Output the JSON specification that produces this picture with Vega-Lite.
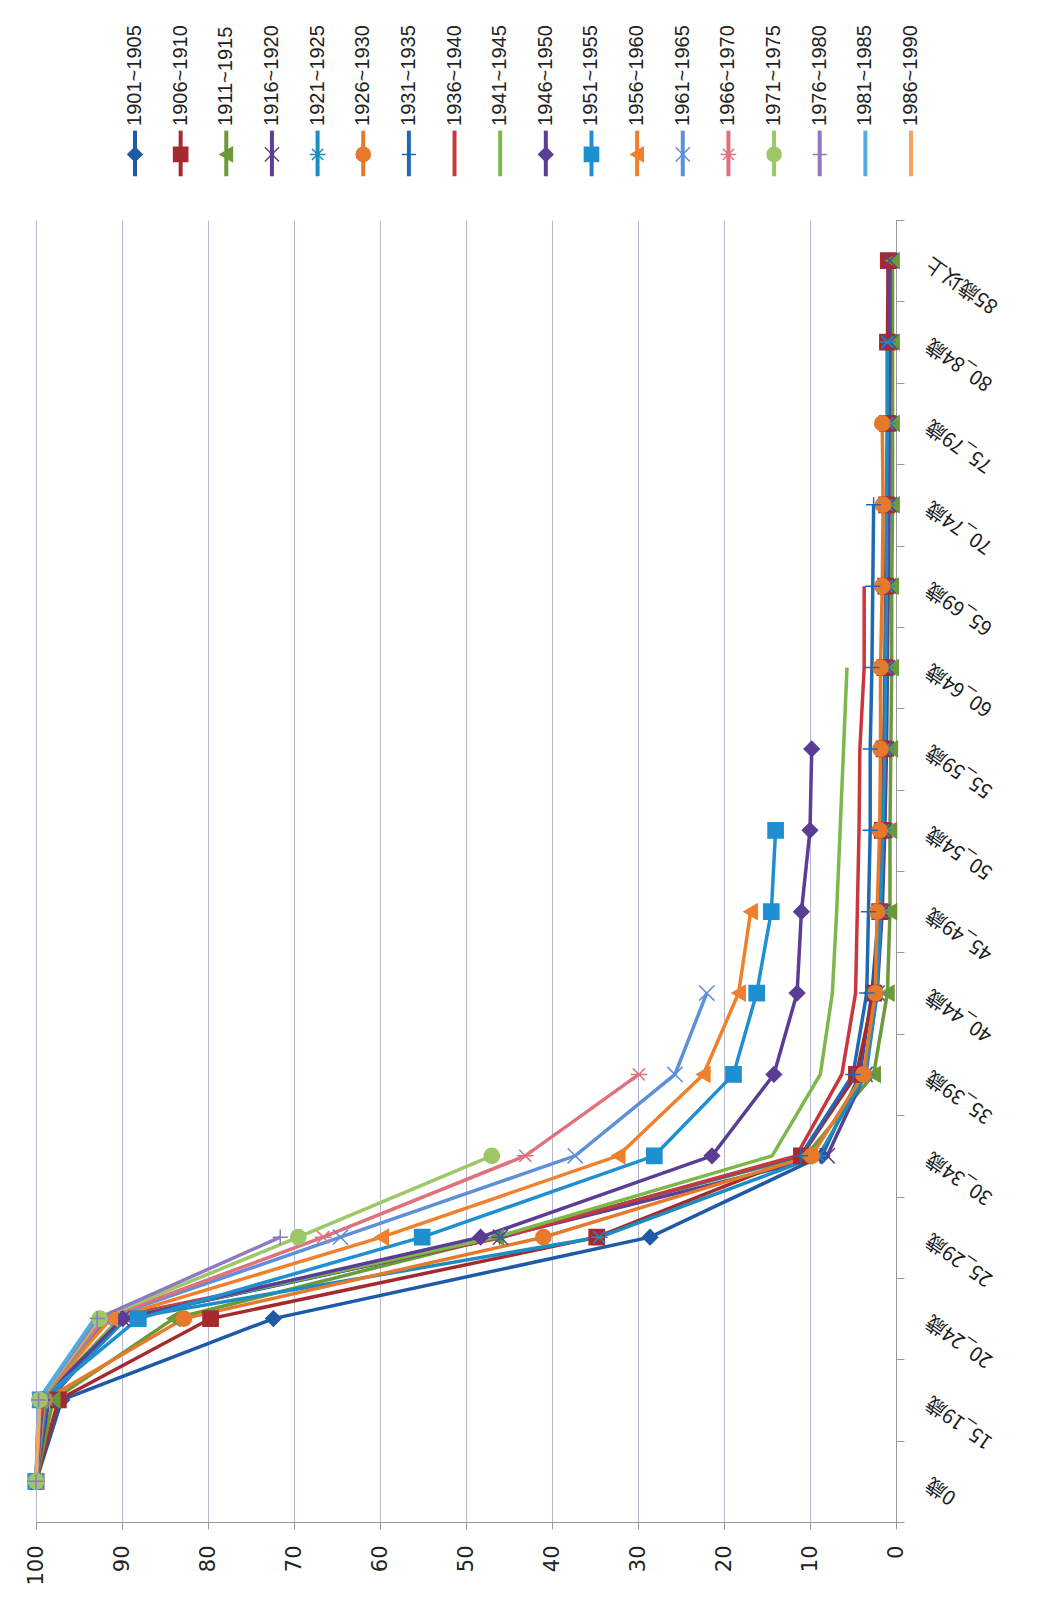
{
  "$schema": "https://vega.github.io/schema/vega-lite/v6.json",
  "padding": {"left": 24, "top": 10, "right": 5, "bottom": 5},
  "background": "white",
  "bounds": "flush",
  "spacing": 20,
  "config": {"view": {"stroke": null}},
  "datasets": {
    "series": [
      {"c": "1901~1905"}, {"c": "1906~1910"}, {"c": "1911~1915"}, {"c": "1916~1920"},
      {"c": "1921~1925"}, {"c": "1926~1930"}, {"c": "1931~1935"}, {"c": "1936~1940"},
      {"c": "1941~1945"}, {"c": "1946~1950"}, {"c": "1951~1955"}, {"c": "1956~1960"},
      {"c": "1961~1965"}, {"c": "1966~1970"}, {"c": "1971~1975"}, {"c": "1976~1980"},
      {"c": "1981~1985"}, {"c": "1986~1990"}
    ],
    "cohort": [
      {"c": "1901~1905", "a": "0歳", "v": 100}, {"c": "1901~1905", "a": "15_19歳", "v": 97.0}, {"c": "1901~1905", "a": "20_24歳", "v": 72.4}, {"c": "1901~1905", "a": "25_29歳", "v": 28.6}, {"c": "1901~1905", "a": "30_34歳", "v": 8.6}, {"c": "1901~1905", "a": "35_39歳", "v": 4.2}, {"c": "1901~1905", "a": "40_44歳", "v": 2.8}, {"c": "1901~1905", "a": "45_49歳", "v": 2.0}, {"c": "1901~1905", "a": "50_54歳", "v": 1.6}, {"c": "1901~1905", "a": "55_59歳", "v": 1.4}, {"c": "1901~1905", "a": "60_64歳", "v": 1.2}, {"c": "1901~1905", "a": "65_69歳", "v": 1.1}, {"c": "1901~1905", "a": "70_74歳", "v": 1.0}, {"c": "1901~1905", "a": "75_79歳", "v": 0.9}, {"c": "1901~1905", "a": "80_84歳", "v": 0.9}, {"c": "1901~1905", "a": "85歳以上", "v": 0.9},
      {"c": "1906~1910", "a": "0歳", "v": 100}, {"c": "1906~1910", "a": "15_19歳", "v": 97.4}, {"c": "1906~1910", "a": "20_24歳", "v": 79.7}, {"c": "1906~1910", "a": "25_29歳", "v": 34.8}, {"c": "1906~1910", "a": "30_34歳", "v": 11.0}, {"c": "1906~1910", "a": "35_39歳", "v": 4.6}, {"c": "1906~1910", "a": "40_44歳", "v": 2.6}, {"c": "1906~1910", "a": "45_49歳", "v": 1.9}, {"c": "1906~1910", "a": "50_54歳", "v": 1.6}, {"c": "1906~1910", "a": "55_59歳", "v": 1.4}, {"c": "1906~1910", "a": "60_64歳", "v": 1.3}, {"c": "1906~1910", "a": "65_69歳", "v": 1.2}, {"c": "1906~1910", "a": "70_74歳", "v": 1.1}, {"c": "1906~1910", "a": "75_79歳", "v": 1.0}, {"c": "1906~1910", "a": "80_84歳", "v": 1.0}, {"c": "1906~1910", "a": "85歳以上", "v": 0.9},
      {"c": "1911~1915", "a": "0歳", "v": 100}, {"c": "1911~1915", "a": "15_19歳", "v": 98.0}, {"c": "1911~1915", "a": "20_24歳", "v": 84.0}, {"c": "1911~1915", "a": "25_29歳", "v": 46.4}, {"c": "1911~1915", "a": "30_34歳", "v": 10.5}, {"c": "1911~1915", "a": "35_39歳", "v": 2.6}, {"c": "1911~1915", "a": "40_44歳", "v": 1.0}, {"c": "1911~1915", "a": "45_49歳", "v": 0.7}, {"c": "1911~1915", "a": "50_54歳", "v": 0.7}, {"c": "1911~1915", "a": "55_59歳", "v": 0.6}, {"c": "1911~1915", "a": "60_64歳", "v": 0.5}, {"c": "1911~1915", "a": "65_69歳", "v": 0.5}, {"c": "1911~1915", "a": "70_74歳", "v": 0.4}, {"c": "1911~1915", "a": "75_79歳", "v": 0.4}, {"c": "1911~1915", "a": "80_84歳", "v": 0.4}, {"c": "1911~1915", "a": "85歳以上", "v": 0.4},
      {"c": "1916~1920", "a": "0歳", "v": 100}, {"c": "1916~1920", "a": "15_19歳", "v": 98.5}, {"c": "1916~1920", "a": "20_24歳", "v": 90.0}, {"c": "1916~1920", "a": "25_29歳", "v": 46.0}, {"c": "1916~1920", "a": "30_34歳", "v": 8.0}, {"c": "1916~1920", "a": "35_39歳", "v": 3.6}, {"c": "1916~1920", "a": "40_44歳", "v": 2.2}, {"c": "1916~1920", "a": "45_49歳", "v": 1.6}, {"c": "1916~1920", "a": "50_54歳", "v": 1.3}, {"c": "1916~1920", "a": "55_59歳", "v": 1.1}, {"c": "1916~1920", "a": "60_64歳", "v": 1.0}, {"c": "1916~1920", "a": "65_69歳", "v": 0.9}, {"c": "1916~1920", "a": "70_74歳", "v": 0.8}, {"c": "1916~1920", "a": "75_79歳", "v": 0.8}, {"c": "1916~1920", "a": "80_84歳", "v": 0.7}, {"c": "1916~1920", "a": "85歳以上", "v": 0.7},
      {"c": "1921~1925", "a": "0歳", "v": 100}, {"c": "1921~1925", "a": "15_19歳", "v": 98.8}, {"c": "1921~1925", "a": "20_24歳", "v": 89.5}, {"c": "1921~1925", "a": "25_29歳", "v": 34.5}, {"c": "1921~1925", "a": "30_34歳", "v": 9.0}, {"c": "1921~1925", "a": "35_39歳", "v": 3.5}, {"c": "1921~1925", "a": "40_44歳", "v": 2.2}, {"c": "1921~1925", "a": "45_49歳", "v": 1.8}, {"c": "1921~1925", "a": "50_54歳", "v": 1.5}, {"c": "1921~1925", "a": "55_59歳", "v": 1.3}, {"c": "1921~1925", "a": "60_64歳", "v": 1.2}, {"c": "1921~1925", "a": "65_69歳", "v": 1.1}, {"c": "1921~1925", "a": "70_74歳", "v": 1.1}, {"c": "1921~1925", "a": "75_79歳", "v": 1.0}, {"c": "1921~1925", "a": "80_84歳", "v": 1.0},
      {"c": "1926~1930", "a": "0歳", "v": 100}, {"c": "1926~1930", "a": "15_19歳", "v": 99.0}, {"c": "1926~1930", "a": "20_24歳", "v": 82.8}, {"c": "1926~1930", "a": "25_29歳", "v": 41.0}, {"c": "1926~1930", "a": "30_34歳", "v": 9.8}, {"c": "1926~1930", "a": "35_39歳", "v": 3.8}, {"c": "1926~1930", "a": "40_44歳", "v": 2.4}, {"c": "1926~1930", "a": "45_49歳", "v": 2.2}, {"c": "1926~1930", "a": "50_54歳", "v": 1.9}, {"c": "1926~1930", "a": "55_59歳", "v": 1.8}, {"c": "1926~1930", "a": "60_64歳", "v": 1.8}, {"c": "1926~1930", "a": "65_69歳", "v": 1.6}, {"c": "1926~1930", "a": "70_74歳", "v": 1.5}, {"c": "1926~1930", "a": "75_79歳", "v": 1.6},
      {"c": "1931~1935", "a": "0歳", "v": 100}, {"c": "1931~1935", "a": "15_19歳", "v": 99.2}, {"c": "1931~1935", "a": "20_24歳", "v": 90.1}, {"c": "1931~1935", "a": "25_29歳", "v": 46.1}, {"c": "1931~1935", "a": "30_34歳", "v": 11.1}, {"c": "1931~1935", "a": "35_39歳", "v": 5.0}, {"c": "1931~1935", "a": "40_44歳", "v": 3.4}, {"c": "1931~1935", "a": "45_49歳", "v": 3.2}, {"c": "1931~1935", "a": "50_54歳", "v": 3.0}, {"c": "1931~1935", "a": "55_59歳", "v": 3.0}, {"c": "1931~1935", "a": "60_64歳", "v": 2.8}, {"c": "1931~1935", "a": "65_69歳", "v": 2.7}, {"c": "1931~1935", "a": "70_74歳", "v": 2.6},
      {"c": "1936~1940", "a": "0歳", "v": 100}, {"c": "1936~1940", "a": "15_19歳", "v": 99.3}, {"c": "1936~1940", "a": "20_24歳", "v": 91.6}, {"c": "1936~1940", "a": "25_29歳", "v": 45.7}, {"c": "1936~1940", "a": "30_34歳", "v": 11.6}, {"c": "1936~1940", "a": "35_39歳", "v": 6.3}, {"c": "1936~1940", "a": "40_44歳", "v": 4.7}, {"c": "1936~1940", "a": "45_49歳", "v": 4.5}, {"c": "1936~1940", "a": "50_54歳", "v": 4.3}, {"c": "1936~1940", "a": "55_59歳", "v": 4.2}, {"c": "1936~1940", "a": "60_64歳", "v": 3.7}, {"c": "1936~1940", "a": "65_69歳", "v": 3.7},
      {"c": "1941~1945", "a": "0歳", "v": 100}, {"c": "1941~1945", "a": "15_19歳", "v": 99.4}, {"c": "1941~1945", "a": "20_24歳", "v": 90.3}, {"c": "1941~1945", "a": "25_29歳", "v": 46.5}, {"c": "1941~1945", "a": "30_34歳", "v": 14.4}, {"c": "1941~1945", "a": "35_39歳", "v": 8.8}, {"c": "1941~1945", "a": "40_44歳", "v": 7.4}, {"c": "1941~1945", "a": "45_49歳", "v": 6.9}, {"c": "1941~1945", "a": "50_54歳", "v": 6.5}, {"c": "1941~1945", "a": "55_59歳", "v": 6.1}, {"c": "1941~1945", "a": "60_64歳", "v": 5.7},
      {"c": "1946~1950", "a": "0歳", "v": 100}, {"c": "1946~1950", "a": "15_19歳", "v": 99.4}, {"c": "1946~1950", "a": "20_24歳", "v": 89.9}, {"c": "1946~1950", "a": "25_29歳", "v": 48.3}, {"c": "1946~1950", "a": "30_34歳", "v": 21.4}, {"c": "1946~1950", "a": "35_39歳", "v": 14.2}, {"c": "1946~1950", "a": "40_44歳", "v": 11.5}, {"c": "1946~1950", "a": "45_49歳", "v": 11.0}, {"c": "1946~1950", "a": "50_54歳", "v": 10.0}, {"c": "1946~1950", "a": "55_59歳", "v": 9.8},
      {"c": "1951~1955", "a": "0歳", "v": 100}, {"c": "1951~1955", "a": "15_19歳", "v": 99.5}, {"c": "1951~1955", "a": "20_24歳", "v": 88.1}, {"c": "1951~1955", "a": "25_29歳", "v": 55.1}, {"c": "1951~1955", "a": "30_34歳", "v": 28.1}, {"c": "1951~1955", "a": "35_39歳", "v": 18.9}, {"c": "1951~1955", "a": "40_44歳", "v": 16.2}, {"c": "1951~1955", "a": "45_49歳", "v": 14.5}, {"c": "1951~1955", "a": "50_54歳", "v": 14.0},
      {"c": "1956~1960", "a": "0歳", "v": 100}, {"c": "1956~1960", "a": "15_19歳", "v": 99.5}, {"c": "1956~1960", "a": "20_24歳", "v": 91.3}, {"c": "1956~1960", "a": "25_29歳", "v": 59.8}, {"c": "1956~1960", "a": "30_34歳", "v": 32.3}, {"c": "1956~1960", "a": "35_39歳", "v": 22.4}, {"c": "1956~1960", "a": "40_44歳", "v": 18.3}, {"c": "1956~1960", "a": "45_49歳", "v": 16.9},
      {"c": "1961~1965", "a": "0歳", "v": 100}, {"c": "1961~1965", "a": "15_19歳", "v": 99.6}, {"c": "1961~1965", "a": "20_24歳", "v": 92.0}, {"c": "1961~1965", "a": "25_29歳", "v": 64.6}, {"c": "1961~1965", "a": "30_34歳", "v": 37.3}, {"c": "1961~1965", "a": "35_39歳", "v": 25.7}, {"c": "1961~1965", "a": "40_44歳", "v": 22.0},
      {"c": "1966~1970", "a": "0歳", "v": 100}, {"c": "1966~1970", "a": "15_19歳", "v": 99.6}, {"c": "1966~1970", "a": "20_24歳", "v": 92.2}, {"c": "1966~1970", "a": "25_29歳", "v": 66.6}, {"c": "1966~1970", "a": "30_34歳", "v": 43.1}, {"c": "1966~1970", "a": "35_39歳", "v": 29.9},
      {"c": "1971~1975", "a": "0歳", "v": 100}, {"c": "1971~1975", "a": "15_19歳", "v": 99.6}, {"c": "1971~1975", "a": "20_24歳", "v": 92.6}, {"c": "1971~1975", "a": "25_29歳", "v": 69.5}, {"c": "1971~1975", "a": "30_34歳", "v": 47.0},
      {"c": "1976~1980", "a": "0歳", "v": 100}, {"c": "1976~1980", "a": "15_19歳", "v": 99.7}, {"c": "1976~1980", "a": "20_24歳", "v": 92.9}, {"c": "1976~1980", "a": "25_29歳", "v": 71.6},
      {"c": "1981~1985", "a": "0歳", "v": 100}, {"c": "1981~1985", "a": "15_19歳", "v": 99.7}, {"c": "1981~1985", "a": "20_24歳", "v": 93.2},
      {"c": "1986~1990", "a": "0歳", "v": 100}, {"c": "1986~1990", "a": "15_19歳", "v": 99.6}
    ]
  },
  "vconcat": [
    {
      "width": 877,
      "height": 190,
      "data": {"name": "series"},
      "encoding": {
        "x": {"field": "c", "type": "nominal", "sort": null, "axis": null, "scale": {"type": "point", "padding": 0, "range": [99, 875]}},
        "color": {
          "field": "c", "type": "nominal", "legend": null,
          "scale": {
            "domain": ["1901~1905", "1906~1910", "1911~1915", "1916~1920", "1921~1925", "1926~1930", "1931~1935", "1936~1940", "1941~1945", "1946~1950", "1951~1955", "1956~1960", "1961~1965", "1966~1970", "1971~1975", "1976~1980", "1981~1985", "1986~1990"],
            "range": ["#1f5aa6", "#a52a2f", "#6b9a38", "#5a3f92", "#1c8dc0", "#e57a2c", "#1f69b3", "#c9373c", "#7cb84a", "#5b3d95", "#1e8fd0", "#f0802c", "#5e8fd8", "#e0707c", "#9cc868", "#8f7ac2", "#4eb0e2", "#f6a466"]
          }
        }
      },
      "layer": [
        {
          "mark": {"type": "rule", "strokeWidth": 4},
          "encoding": {
            "y": {"datum": 127, "type": "quantitative", "axis": null, "scale": {"domain": [0, 190], "reverse": true}},
            "y2": {"datum": 175}
          }
        },
        {
          "mark": {"type": "point", "filled": true, "size": 200, "strokeWidth": 1.5, "opacity": 1},
          "encoding": {
            "y": {"datum": 152, "type": "quantitative"},
            "shape": {
              "field": "c", "type": "nominal", "legend": null,
              "scale": {
                "domain": ["1901~1905", "1906~1910", "1911~1915", "1916~1920", "1921~1925", "1926~1930", "1931~1935", "1936~1940", "1941~1945", "1946~1950", "1951~1955", "1956~1960", "1961~1965", "1966~1970", "1971~1975", "1976~1980", "1981~1985", "1986~1990"],
                "range": ["diamond", "square", "triangle-left", "M-1,-1L1,1M-1,1L1,-1", "M-0.8,-0.8L0.8,0.8M-0.8,0.8L0.8,-0.8M-1.1,0L1.1,0", "circle", "M-1,0L1,0M0,-1L0,1", "M0,0", "M0,0", "diamond", "square", "triangle-left", "M-1,-1L1,1M-1,1L1,-1", "M-0.8,-0.8L0.8,0.8M-0.8,0.8L0.8,-0.8M-1.1,0L1.1,0", "circle", "M-1,0L1,0M0,-1L0,1", "M0,0", "M0,0"]
              }
            },
            "stroke": {
              "field": "c", "type": "nominal", "legend": null,
              "scale": {
                "domain": ["1901~1905", "1906~1910", "1911~1915", "1916~1920", "1921~1925", "1926~1930", "1931~1935", "1936~1940", "1941~1945", "1946~1950", "1951~1955", "1956~1960", "1961~1965", "1966~1970", "1971~1975", "1976~1980", "1981~1985", "1986~1990"],
                "range": ["#1f5aa6", "#a52a2f", "#6b9a38", "#5a3f92", "#1c8dc0", "#e57a2c", "#1f69b3", "#c9373c", "#7cb84a", "#5b3d95", "#1e8fd0", "#f0802c", "#5e8fd8", "#e0707c", "#9cc868", "#8f7ac2", "#4eb0e2", "#f6a466"]
              }
            }
          }
        },
        {
          "mark": {"type": "text", "angle": 270, "align": "left", "baseline": "middle", "fontSize": 20, "font": "Liberation Sans"},
          "encoding": {
            "y": {"datum": 122, "type": "quantitative"},
            "text": {"field": "c"},
            "color": {"value": "#222222"}
          }
        }
      ]
    },
    {
      "width": 860,
      "height": 1302,
      "data": {"name": "cohort"},
      "encoding": {
        "y": {
          "field": "a", "type": "ordinal",
          "scale": {"type": "band", "paddingInner": 0, "paddingOuter": 0,
            "domain": ["85歳以上", "80_84歳", "75_79歳", "70_74歳", "65_69歳", "60_64歳", "55_59歳", "50_54歳", "45_49歳", "40_44歳", "35_39歳", "30_34歳", "25_29歳", "20_24歳", "15_19歳", "0歳"]},
          "axis": {
            "orient": "right", "title": null, "tickBand": "extent", "grid": false,
            "labelAngle": 215, "labelAlign": "right", "labelBaseline": "middle",
            "labelFont": "Noto Sans CJK JP", "labelFontSize": 20, "labelColor": "#1a1a1a",
            "labelPadding": 24, "labelOverlap": false, "tickSize": 8,
            "tickColor": "#999999", "domainColor": "#999999"
          }
        },
        "x": {
          "field": "v", "type": "quantitative",
          "scale": {"domain": [0, 100], "reverse": true, "nice": false},
          "axis": {
            "values": [0, 10, 20, 30, 40, 50, 60, 70, 80, 90, 100], "title": null,
            "labelAngle": 270, "labelFont": "DejaVu Sans", "labelFontSize": 21, "labelColor": "#222222",
            "labelPadding": 16, "tickSize": 7, "tickColor": "#999999", "domainColor": "#999999",
            "grid": true, "gridColor": "#b3b7d0", "gridWidth": 1
          }
        },
        "color": {"field": "c", "type": "nominal", "legend": null}
      },
      "layer": [
        {
          "mark": {"type": "line", "strokeWidth": 3.5},
          "encoding": {"order": {"value": null}}
        },
        {
          "mark": {"type": "point", "filled": true, "size": 230, "strokeWidth": 1.5, "opacity": 1},
          "encoding": {
            "shape": {"field": "c", "type": "nominal", "legend": null},
            "stroke": {"field": "c", "type": "nominal", "legend": null}
          }
        }
      ]
    }
  ]
}
